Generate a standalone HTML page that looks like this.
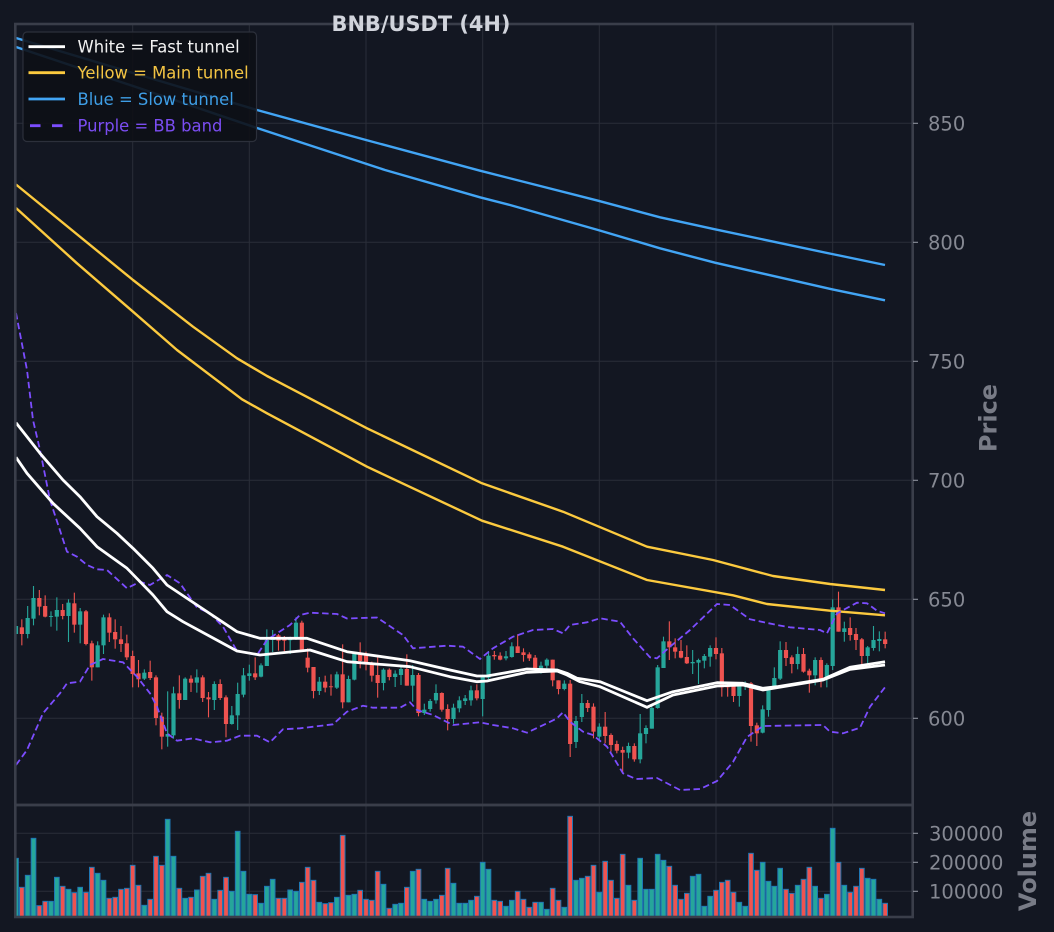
<!DOCTYPE html>
<html><head><meta charset="utf-8">
<style>
html,body{margin:0;padding:0;background:#131722;}
svg{display:block;font-family:"DejaVu Sans","Liberation Sans",sans-serif;}
</style></head>
<body>
<svg id="s" width="1054" height="932" viewBox="0 0 1054 932" xmlns="http://www.w3.org/2000/svg">
<rect width="1054" height="932" fill="#131722"/>
<defs>
<clipPath id="cp"><rect x="15" y="24" width="898" height="781"/></clipPath>
<clipPath id="cv"><rect x="15" y="805" width="898" height="112"/></clipPath>
</defs>
<g stroke="#2a2e39" stroke-width="1" fill="none">
<path d="M132.7 24V917M249.3 24V917M366 24V917M482.7 24V917M599.3 24V917M716 24V917M832.7 24V917"/>
<path d="M15 123.3H913M15 242.3H913M15 361.3H913M15 480.3H913M15 599.3H913M15 718.3H913"/>
<path d="M15 833.3H913M15 862.3H913M15 891.3H913"/>
</g>
<g id="candles" clip-path="url(#cp)"></g>
<g id="vol" clip-path="url(#cv)"></g>
<g clip-path="url(#cp)" fill="none" stroke-linejoin="round">
<polyline stroke="#42a5f5" stroke-width="2.4" points="16,38 133,73 257,110 366,140 480,170.7 598,200.7 660,217.3 715,229.3 832,254 885,265"/>
<polyline stroke="#42a5f5" stroke-width="2.4" points="16,47 133,86 257,128 385,170 480,197.3 510,205 598,230 660,248.3 715,262.7 832,289.3 885,300.3"/>
<polyline stroke="#fcca3f" stroke-width="2.4" points="16,184.5 133,280 193,326.7 237,358.3 267,376 367,428.3 482,483.3 563,511.7 647,546.7 713,560 773,576 830,584 885,590"/>
<polyline stroke="#fcca3f" stroke-width="2.4" points="16,208 77,263.3 133,311.7 177,350 242,399.3 267,413.3 367,466.7 482,520.7 563,546.7 647,580 733,595.3 767,604 830,610.7 885,615.3"/>
<polyline stroke="#7c4dff" stroke-width="1.8" stroke-dasharray="6.5 3.5" points="16,313 27,370 33,420 40,450 50,500 67,551.7 77,556.7 87,565 97,569.3 107,570 127,588.3 140,581.7 150,585 167,575 180,583.3 197,607.5 210,613.3 223,626.7 237,651 257,655 267,640 277,633.3 290,625 300,615 310,612.7 337,614 347,618.5 377,617.5 403,635 413,648.3 447,645.7 463,646.7 480,659 493,648.3 513,636.7 533,630 553,629 563,633.3 570,625 587,622.3 600,618.3 620,621.7 633,638.3 650,657.3 657,658.3 670,646.7 690,630 717,604 730,605 750,619.3 777,625 790,627.3 820,630 827,633.3 837,613.3 857,602.7 867,603.3 877,610.7 885,613.3"/>
<polyline stroke="#7c4dff" stroke-width="1.8" stroke-dasharray="6.5 3.5" points="16,765 27,750 43,713.3 60,693.3 67,683.3 80,681.7 90,665 103,659 123,662.3 137,676.7 150,693.3 157,706.7 167,733.3 177,740.7 193,738.3 210,742.3 227,740.7 240,735.7 257,735.7 270,742.3 283,729.3 300,728.3 333,724.3 347,711.7 363,705.7 373,707.7 400,707.7 410,702.3 417,710 433,715 453,725 480,722.3 493,725 513,728.3 527,732.7 547,723.3 557,718.3 563,712.3 570,721.7 583,731.7 593,735 607,746.7 623,773.3 636,779 657,778 680,790 700,789 717,781 733,762 747,737 763,726 823,725 830,731.7 843,733.3 860,727.7 870,706.7 885,687.3"/>
<polyline stroke="#ffffff" stroke-width="2.8" points="16,422.7 40,453.3 63,480 80,496.7 97,516.7 117,533.3 133,548.3 153,568.3 167,585 197,605 237,631.7 260,638.3 307,638.3 347,651.7 410,660.7 450,670 477,676 487,676 527,669 557,670 567,673.3 577,678.3 600,681.7 647,700.7 673,691.7 717,682.7 743,683.3 763,688.3 777,686.7 823,679.3 850,667.3 885,661.7"/>
<polyline stroke="#ffffff" stroke-width="2.8" points="16,457.3 27,473.3 53,503.3 80,528.3 97,546.7 127,568.3 153,595 167,611.7 183,621.7 237,651 260,655 310,650 347,661.7 410,666.7 450,676.7 477,681.7 487,681 527,672.3 557,671 567,675 580,681.7 600,686.7 647,707.3 673,695 717,686 743,685 763,690 823,680 850,669.3 885,665"/>
</g>
<g fill="none" stroke="#3a3e4a" stroke-width="2.6">
<rect x="15.3" y="24" width="897.4" height="781"/>
<rect x="15.3" y="805" width="897.4" height="112"/>
</g>
<g stroke="#8a8e99" stroke-width="1.2">
<path d="M913 123.3h5M913 242.3h5M913 361.3h5M913 480.3h5M913 599.3h5M913 718.3h5M913 833.3h5M913 862.3h5M913 891.3h5"/>
</g>
<g fill="#868993" font-size="19.5">
<text x="928" y="130.4">850</text>
<text x="928" y="249.4">800</text>
<text x="928" y="368.4">750</text>
<text x="928" y="487.4">700</text>
<text x="928" y="606.4">650</text>
<text x="928" y="725.4">600</text>
<text x="929" y="840.4">300000</text>
<text x="929" y="869.4">200000</text>
<text x="929" y="898.4">100000</text>
</g>
<text transform="translate(996.5,418) rotate(-90)" text-anchor="middle" font-size="24" font-weight="bold" fill="#787b86">Price</text>
<text transform="translate(1036,861) rotate(-90)" text-anchor="middle" font-size="24" font-weight="bold" fill="#787b86">Volume</text>
<g>
<rect x="23" y="32" width="233.5" height="109.5" rx="4" fill="#0d1016" fill-opacity="0.9" stroke="#2c303b" stroke-width="1.2"/>
<line x1="28.5" y1="46.7" x2="65" y2="46.7" stroke="#ffffff" stroke-width="2.8"/>
<line x1="28.5" y1="72.7" x2="65" y2="72.7" stroke="#fcca3f" stroke-width="2.8"/>
<line x1="28.5" y1="99" x2="65" y2="99" stroke="#42a5f5" stroke-width="2.8"/>
<line x1="30" y1="125.7" x2="64" y2="125.7" stroke="#7c4dff" stroke-width="2.8" stroke-dasharray="10.5 11.5"/>
<g font-size="16.4">
<text x="77.5" y="52.7" fill="#f2f2f2">White = Fast tunnel</text>
<text x="77.5" y="78.7" fill="#f3c443">Yellow = Main tunnel</text>
<text x="77.5" y="105.2" fill="#3e9ee6">Blue = Slow tunnel</text>
<text x="77.5" y="131.7" fill="#7b4df2">Purple = BB band</text>
</g>
</g>
<text x="421" y="31.2" text-anchor="middle" font-size="20.9" font-weight="bold" fill="#d1d4dc">BNB/USDT (4H)</text>
</svg>
<script>
(function(){
var NS="http://www.w3.org/2000/svg";
var cg=document.getElementById("candles"), vg=document.getElementById("vol");
var RED="#ef5350", GRN="#26a69a";
var X=function(i){return 16+5.8333*i;};
var colors=[];
function el(tag,attrs,parent){var e=document.createElementNS(NS,tag);for(var k in attrs)e.setAttribute(k,attrs[k]);parent.appendChild(e);return e;}
function cand(i,bt,bb,wt,wb,c){
  var col=c==="r"?RED:GRN; colors[i]=col; var x=X(i);
  el("line",{x1:x,x2:x,y1:wt,y2:wb,stroke:col,"stroke-width":1.1},cg);
  var t=Math.min(bt,bb),h=Math.max(Math.abs(bb-bt),0.9);
  el("rect",{x:x-2.1,y:t,width:4.2,height:h,fill:col},cg);
}
function add(str,y0,start){
  str.split(";").forEach(function(s,k){var p=s.split(",");cand(start+k,y0+p[0]/3,y0+p[1]/3,y0+p[2]/3,y0+p[3]/3,p[4]);});
}
cand(0,626,634,620,640,"g");
add("142,162,118,196,r;114,162,78,175,g;54,116,18,136,g;54,80,30,106,r;78,110,46,112,r;108,110,94,140,g;90,110,52,152,g;90,108,72,118,r;68,108,58,186,g;70,134,38,158,r;94,134,84,190,g;94,192,90,196,r;190,262,182,302,r;196,262,184,262,g;112,196,104,222,g;112,158,100,186,r;156,178,118,206,r;178,192,138,216,r;190,232,164,240,r;228,282,212,322,r;280,298,240,322,r;278,296,268,300,g;276,294,242,300,r;292,414,286,436,r;410,470,398,508,r;462,470,334,500,g;340,466,320,476,g;340,360,286,386,r;296,360,292,360,g;296,308,286,336,r;292,308,268,338,g;292,354,286,366,r;352,358,336,412,r;312,360,304,390,g;312,354,298,360,r;352,432,346,472,r;406,432,378,434,g;342,406,308,450,g;286,344,264,352,g;280,288,254,302,g;280,292,232,300,r;256,290,250,292,g;180,258,148,258,g;176,180,150,216,g;166,182,162,212,r;176,182,168,214,r;178,180,170,222,g;128,178,112,180,g;128,210,122,214,r",580,1);
add("128,158,100,172,r;156,228,156,250,r;200,228,186,240,g;200,218,182,232,r;214,216,178,242,r;178,218,170,222,g;178,262,88,280,r;192,262,182,262,g;116,194,110,196,g;116,138,82,160,r;116,148,110,166,r;146,182,140,200,r;180,204,124,248,r;164,204,160,226,g;164,186,160,196,r;176,186,166,216,g;162,180,152,210,g;162,212,118,212,r;180,212,150,260,g;180,294,174,304,r;284,294,266,300,g;258,282,252,290,g;234,256,208,266,g;234,284,232,290,r;282,312,268,346,r;278,312,266,326,g;256,280,244,292,g;250,258,240,270,g;226,256,212,272,g;226,250,208,256,r;186,252,180,304,g;122,188,108,192,g;120,124,108,134,r;122,134,112,136,r;124,130,108,136,g;94,126,82,128,g;94,114,58,114,r;112,120,100,140,r;118,130,112,138,r;128,160,120,170,r;152,160,140,176,g;134,152,130,160,g;134,196,134,214,r;196,222,196,238,r;206,222,196,226,g;206,387,195,426,r;318,381,303,399,g;264,306,237,321,g;264,279,255,291,r",615,50);
add("380,455,370,475,r;440,470,430,480,g;440,468,396,490,r;465,495,460,515,r;492,512,482,520,r;510,518,500,580,r;498,518,488,535,g;498,538,490,545,r;460,538,402,550,g;444,462,436,490,g;384,446,376,446,g;262,384,255,386,g;184,264,170,264,g;184,202,124,240,r;202,215,175,235,r;213,233,180,235,r;231,250,196,252,r;246,250,210,282,g;240,248,236,312,g;228,242,222,265,g;204,230,196,260,g;204,222,172,238,r;220,322,204,350,r;318,322,306,350,r;316,348,306,366,r;316,348,306,380,g;310,316,304,330,g;310,438,306,485,r;436,460,428,498,r;388,458,376,460,g;326,390,320,410,g;294,326,262,328,g;210,296,184,300,g;210,234,186,258,r;232,252,226,280,r;222,252,200,268,g;222,275,204,278,r;272,286,266,338,r;240,286,232,316,g;240,296,232,322,r;255,296,250,322,g;82,258,58,270,g;82,155,35,155,r;145,156,125,185,g;144,165,112,182,r;162,180,144,210,r;178,228,174,255,r;202,228,198,250,g;180,204,138,212,g;177,183,154,214,g;178,192,155,205,r",580,99);
var vt="175,262,226,115,317,304,304,232,259,268,278,262,277,202,220,241,295,292,268,265,196,256,316,298,169,196,58,169,265,295,292,270,229,220,298,271,232,274,94,214,283,284,310,259,238,295,295,270,274,247,202,241,307,311,308,292,106,286,283,271,298,301,214,253,325,313,310,262,214,208,298,304,298,286,205,250,310,310,301,289,187,208,301,304,319,301,274,298,322,307,307,328,265,301,322,49,241,235,229,196,277,184,241,295,163,256,301,175,268,268,163,181,199,256,298,280,229,223,319,289,271,247,241,277,307,319,160,211,187,244,259,205,268,280,256,238,202,259,295,283,85,187,256,277,259,205,235,238,298,310".split(",");
vt.forEach(function(t,i){
  var y=800+(+t)/3, x=X(i);
  el("rect",{x:x-2.33,y:y,width:4.67,height:916.5-y,fill:colors[i]||GRN,stroke:"#1f77b4","stroke-width":1},vg);
});
})();
</script>
</body></html>
